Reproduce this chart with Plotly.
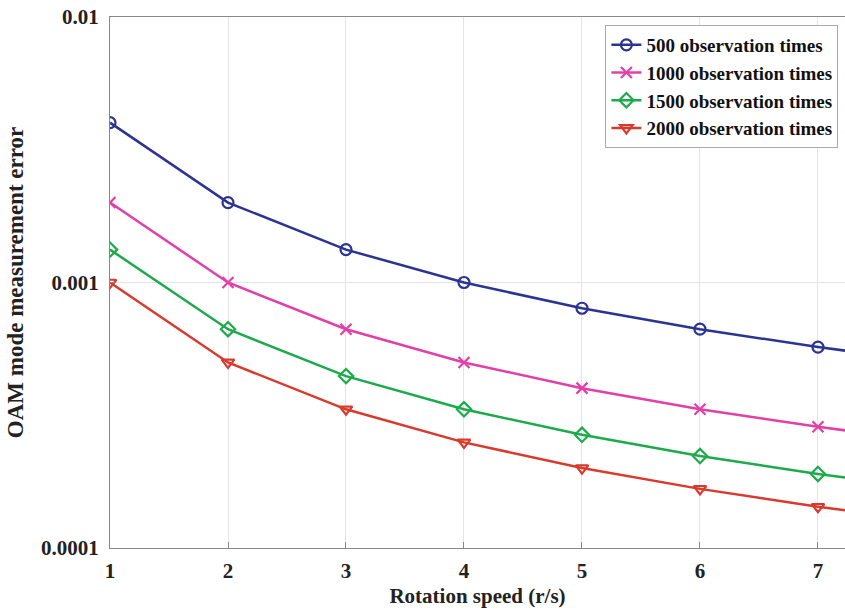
import plotly.graph_objects as go

speed = [1, 2, 3, 4, 5, 6, 7, 8]
err_500 = [0.004, 0.002, 0.00133, 0.001, 0.0008, 0.000667, 0.000571, 0.0005]
err_1000 = [0.002, 0.001, 0.000667, 0.0005, 0.0004, 0.000333, 0.000286, 0.00025]
err_1500 = [0.00133, 0.000667, 0.000444, 0.000333, 0.000267, 0.000222, 0.00019, 0.000167]
err_2000 = [0.001, 0.0005, 0.000333, 0.00025, 0.0002, 0.000167, 0.000143, 0.000125]
names = ["500 observation times", "1000 observation times", "1500 observation times", "2000 observation times"]
y_ticks = [0.0001, 0.001, 0.01]
y_ticktext = ["0.0001", "0.001", "0.01"]
x_ticks = [1, 2, 3, 4, 5, 6, 7]

series = [err_500, err_1000, err_1500, err_2000]
colors = ["#2B3393", "#E040A8", "#1DAA4C", "#D93A2E"]
symbols = ["circle-open", "x-thin-open", "diamond-open", "triangle-down-open"]

font_family = "Liberation Serif, Times New Roman, serif"

fig = go.Figure()
for s, n, c, m in zip(series, names, colors, symbols):
    fig.add_trace(go.Scatter(
        x=speed, y=s, name=n, mode="lines+markers",
        line=dict(color=c, width=2.5),
        marker=dict(symbol=m, size=11, color=c, line=dict(color=c, width=2.2)),
        cliponaxis=True,
    ))

fig.update_layout(
    width=845, height=611,
    margin=dict(l=110, r=0, t=17, b=63),
    paper_bgcolor="white", plot_bgcolor="white",
    font=dict(family=font_family, size=20, color="#222222"),
    showlegend=True,
    legend=dict(
        x=0.991, y=0.985, xanchor="right", yanchor="top",
        bgcolor="white", bordercolor="#AAAAAA", borderwidth=1,
        font=dict(family=font_family, size=19, color="#111111", weight="bold"),
        tracegroupgap=0, itemwidth=30,
    ),
    xaxis=dict(
        range=[1, 7.229], tickvals=x_ticks,
        showgrid=True, gridcolor="#E4E4E4", gridwidth=1,
        showline=True, linecolor="#888888", linewidth=1, mirror=True,
        ticks="inside", ticklen=6, tickcolor="#888888",
        ticklabelstandoff=4,
        tickfont=dict(family=font_family, size=21, color="#222222", weight="bold"),
        title=dict(text="Rotation speed (r/s)", standoff=6,
                   font=dict(family=font_family, size=21, color="#222222", weight="bold")),
        zeroline=False,
    ),
    yaxis=dict(
        type="log", range=[-4, -2], tickvals=y_ticks, ticktext=y_ticktext,
        showgrid=True, gridcolor="#E4E4E4", gridwidth=1,
        showline=True, linecolor="#888888", linewidth=1, mirror=True,
        ticks="inside", ticklen=6, tickcolor="#888888",
        ticklabelstandoff=6, ticklabeloverflow="allow",
        tickfont=dict(family=font_family, size=21, color="#222222", weight="bold"),
        title=dict(text="OAM mode measurement error", standoff=10,
                   font=dict(family=font_family, size=23, color="#222222", weight="bold")),
        zeroline=False,
    ),
)

fig.write_html(
    "out.html",
    config={"displayModeBar": False},
    post_script="document.body.style.margin='0';document.body.style.overflow='hidden';",
)
